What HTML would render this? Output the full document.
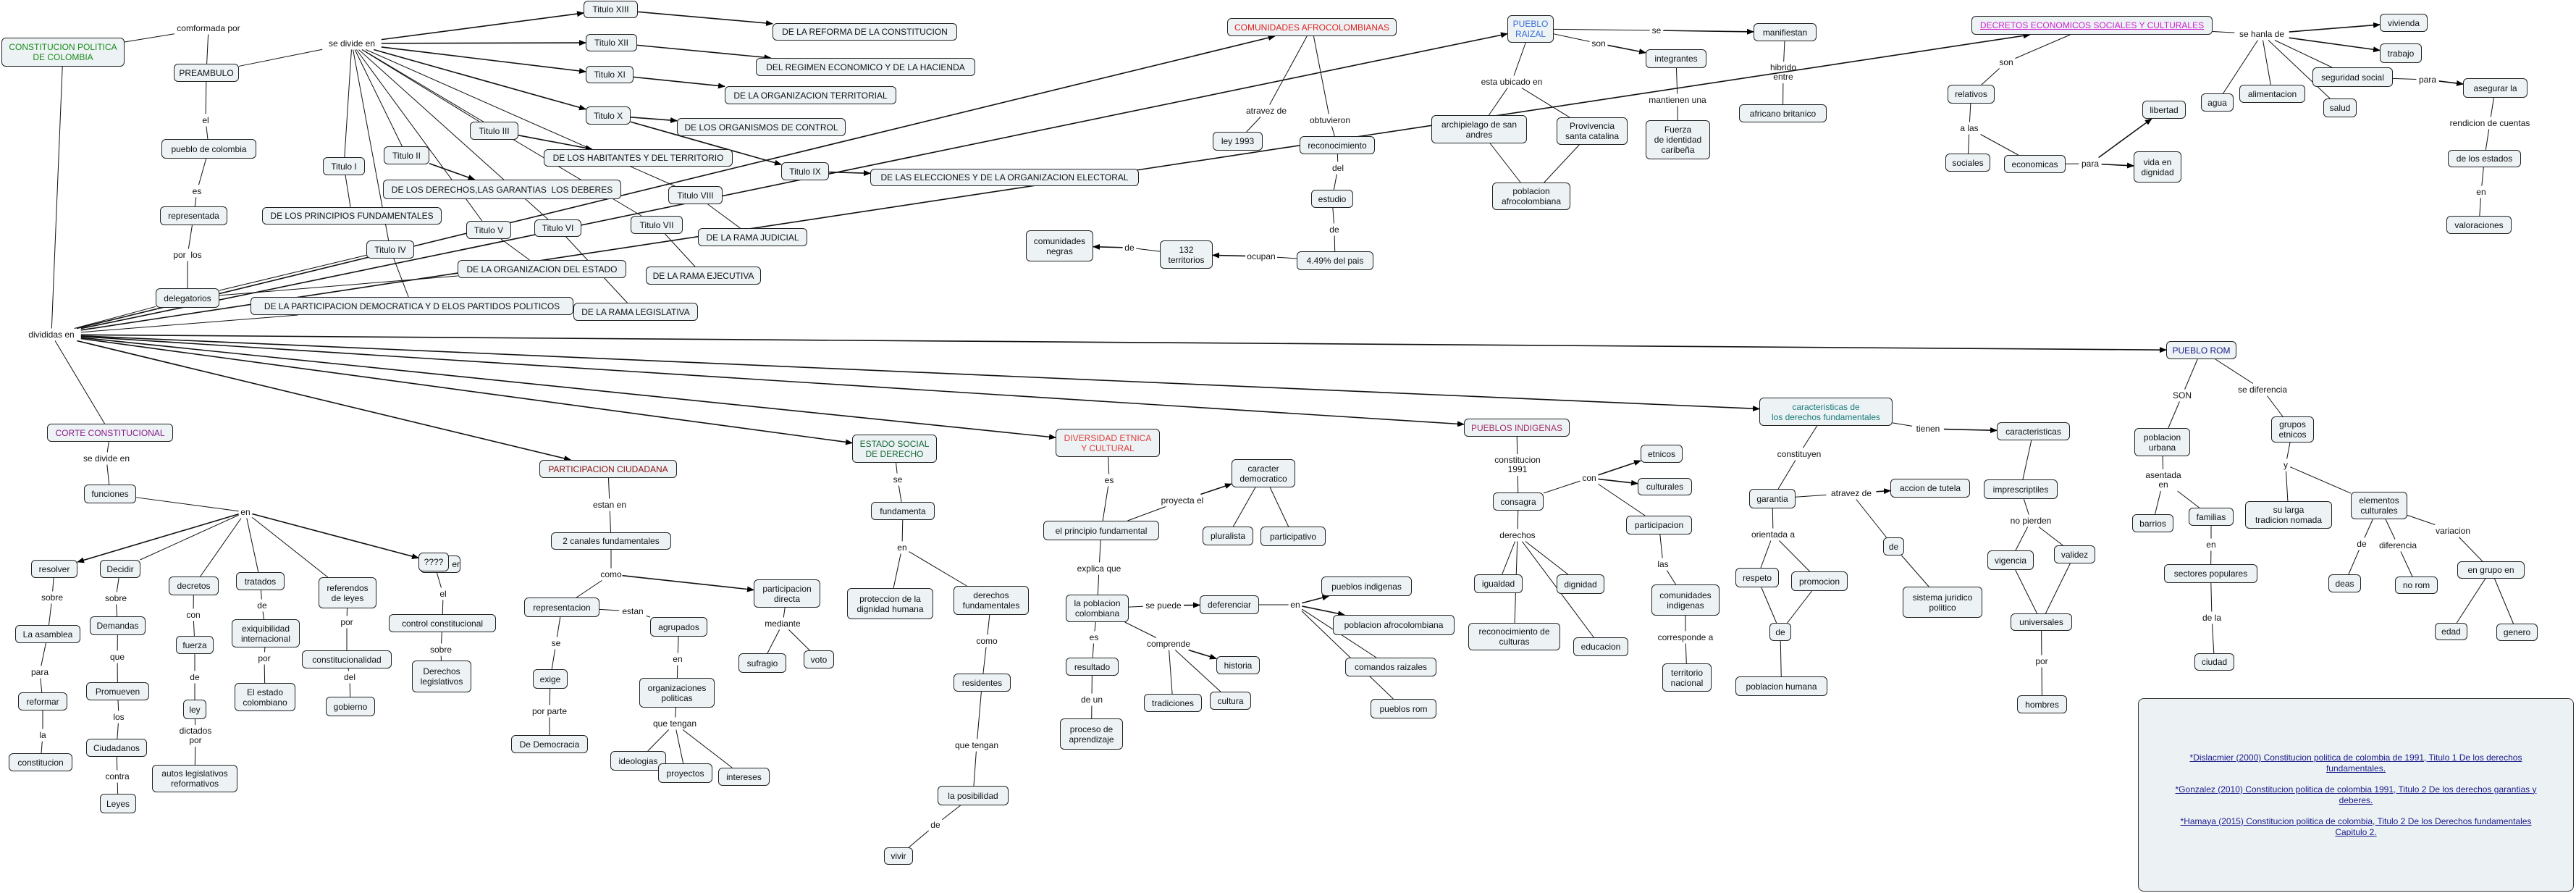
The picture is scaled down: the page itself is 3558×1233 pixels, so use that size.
<!DOCTYPE html>
<html><head><meta charset="utf-8">
<style>
html,body{margin:0;padding:0;background:#fff;}
#c{position:relative;width:3558px;height:1233px;overflow:hidden;font-family:"Liberation Sans",sans-serif;}
svg{position:absolute;left:0;top:0;}
.n{position:absolute;box-sizing:border-box;border:1px solid #222;border-radius:6px;background:#edf3f5;display:flex;align-items:center;justify-content:center;text-align:center;font-size:12px;line-height:14px;color:#111;white-space:pre;}
.l{position:absolute;display:flex;align-items:center;justify-content:center;text-align:center;font-size:12px;line-height:13px;color:#111;white-space:pre;}
#refs{position:absolute;left:2953px;top:964px;width:602px;height:267px;box-sizing:border-box;border:1px solid #333;border-radius:8px;background:#ecf2f4;display:flex;flex-direction:column;justify-content:center;align-items:center;text-align:center;font-size:12px;line-height:15px;color:#1a1a8a;}
#refs p{margin:7px 36px;text-decoration:underline;}
</style></head><body>
<div id="c">
<svg id="s" width="3558" height="1233" xmlns="http://www.w3.org/2000/svg">
<defs><marker id="a" markerWidth="10" markerHeight="10" refX="9" refY="4" orient="auto" markerUnits="userSpaceOnUse"><path d="M0,0 L10,4 L0,8 z" fill="#000"/></marker></defs>
</svg>
<div id="refs">
<p>*Dislacmier (2000) Constitucion politica de colombia de 1991, Titulo 1 De los derechos fundamentales.</p>
<p>*Gonzalez (2010) Constitucion politica de colombia 1991, Titulo 2 De los derechos garantias y deberes.</p>
<p>*Hamaya (2015) Constitucion politica de colombia, Titulo 2 De los Derechos fundamentales Capitulo 2.</p>
</div>
</div>
<script>
var N={};
function n(id,x1,y1,x2,y2,t,c,u){N[id]={x:x1,y:y1,w:x2-x1,h:y2-y1,t:t,c:c,u:u,k:'n'};}
function l(id,cx,cy,t){var ls=t.split('\n'),m=0;ls.forEach(function(s){m=Math.max(m,s.length)});var w=m*6.3+4,h=ls.length*13+2;N[id]={x:cx-w/2,y:cy-h/2,w:w,h:h,t:t,k:'l'};}
n('cpc',2,52,172,92,'CONSTITUCION POLITICA\nDE COLOMBIA','#1a8a1a');
n('pre',240,88,330,113,'PREAMBULO');n('pdc',223,192,354,219,'pueblo de colombia');
n('rep',221,285,314,311,'representada');n('del',215,398,303,425,'delegatorios');
n('t13',806,1,881,25,'Titulo XIII');n('t12',809,47,880,71,'Titulo XII');n('t11',809,91,875,115,'Titulo XI');
n('t10',809,147,871,172,'Titulo X');n('t3',649,168,716,193,'Titulo III');n('t2',530,202,593,227,'Titulo II');
n('t1',446,217,504,242,'Titulo I');n('t9',1079,224,1145,249,'Titulo IX');n('t8',923,257,998,282,'Titulo VIII');
n('t7',871,298,943,323,'Titulo VII');n('t6',738,303,803,327,'Titulo VI');n('t5',644,305,706,330,'Titulo V');n('t4',506,332,572,357,'Titulo IV');
n('ref',1067,32,1322,56,'DE LA REFORMA DE LA CONSTITUCION');n('reg',1044,80,1347,105,'DEL REGIMEN ECONOMICO Y DE LA HACIENDA');
n('ot',1001,119,1238,144,'DE LA ORGANIZACION TERRITORIAL');n('oc',935,163,1168,188,'DE LOS ORGANISMOS DE CONTROL');
n('hab',751,206,1012,230,'DE LOS HABITANTES Y DEL TERRITORIO');n('der',529,248,858,275,'DE LOS DERECHOS,LAS GARANTIAS  LOS DEBERES');
n('pri',362,286,610,310,'DE LOS PRINCIPIOS FUNDAMENTALES');n('rj',964,315,1115,340,'DE LA RAMA JUDICIAL');
n('oe',632,359,865,384,'DE LA ORGANIZACION DEL ESTADO');n('re',892,368,1051,393,'DE LA RAMA EJECUTIVA');
n('pd',346,410,792,435,'DE LA PARTICIPACION DEMOCRATICA Y D ELOS PARTIDOS POLITICOS');n('rl',792,418,964,443,'DE LA RAMA LEGISLATIVA');
n('ele',1202,233,1573,257,'DE LAS ELECCIONES Y DE LA ORGANIZACION ELECTORAL');
n('afro',1695,25,1929,50,'COMUNIDADES AFROCOLOMBIANAS','#e0201f');n('rai',2082,21,2146,59,'PUEBLO\nRAIZAL','#3a6ed8');
n('int',2273,68,2357,94,'integrantes');n('ley93',1675,182,1744,208,'ley 1993');n('rec',1795,188,1899,213,'reconocimiento');
n('arc',1977,159,2109,198,'archipielago de san\nandres');n('pro3',2150,162,2248,200,'Provivencia\nsanta catalina');
n('fue2',2273,166,2362,220,'Fuerza\nde identidad\ncaribeña');n('est2',1811,262,1869,287,'estudio');
n('paf',2061,252,2169,290,'poblacion\nafrocolombiana');n('cn',1417,318,1510,361,'comunidades\nnegras');
n('t132',1602,332,1675,371,'132\nterritorios');n('p449',1791,347,1897,373,'4.49% del pais');
n('man',2422,32,2509,57,'manifiestan');n('afb',2402,144,2523,169,'africano britanico');
n('dcs',2723,22,3056,48,'DECRETOS ECONOMICOS SOCIALES Y CULTURALES','#d020d0',1);
n('viv2',3287,19,3353,44,'vivienda');n('trb',3287,60,3345,87,'trabajo');n('rel',2690,117,2755,143,'relativos');
n('agu',3040,129,3085,154,'agua');n('ali',3093,117,3184,142,'alimentacion');n('ss',3194,93,3305,120,'seguridad social');
n('sal',3209,136,3255,162,'salud');n('ase2',3402,108,3491,135,'asegurar la');n('lib',2959,139,3019,164,'libertad');
n('soc',2687,212,2749,237,'sociales');n('eco',2768,214,2853,239,'economicas');n('vid',2947,209,3013,252,'vida en\ndignidad');
n('dle',3381,207,3482,231,'de los estados');n('val2',3379,298,3469,323,'valoraciones');
n('cor',65,585,239,610,'CORTE CONSTITUCIONAL','#8a1a8a');n('fun',116,669,188,695,'funciones');
n('res',43,773,107,798,'resolver');n('dec',138,773,194,798,'Decidir');n('dcr',233,796,302,822,'decretos');
n('tra',326,790,393,815,'tratados');n('rfl',440,797,520,840,'referendos\nde leyes');
n('pod',580,767,636,791,'        er');n('qq',578,763,620,789,'????');
n('asa',21,863,111,888,'La asamblea');n('dem',124,851,201,877,'Demandas');n('fue',243,878,295,903,'fuerza');
n('exi',320,855,414,894,'exiquibilidad\ninternacional');n('cc',537,848,685,873,'control constitucional');
n('cst',417,898,541,923,'constitucionalidad');n('rfm',25,956,93,981,'reformar');n('pro',119,942,206,967,'Promueven');
n('ley',253,966,285,993,'ley');n('eec',324,943,408,982,'El estado\ncolombiano');n('gob',450,962,518,989,'gobierno');
n('dl',569,912,651,956,'Derechos\nlegislativos');n('cons',12,1040,100,1065,'constitucion');n('ciu',119,1020,203,1045,'Ciudadanos');
n('lys',138,1096,188,1123,'Leyes');n('aut',210,1056,328,1094,'autos legislativos\nreformativos');
n('pc',745,635,935,660,'PARTICIPACION CIUDADANA','#8a1010');n('c2',761,735,927,759,'2 canales fundamentales');
n('rpr',724,825,828,852,'representacion');n('agr',898,852,977,879,'agrupados');n('pdi',1041,800,1133,839,'participacion\ndirecta');
n('suf',1020,902,1086,929,'sufragio');n('vot',1110,898,1152,923,'voto');n('exg',736,924,784,951,'exige');
n('org',883,936,987,977,'organizaciones\npoliticas');n('ddm',706,1015,812,1040,'De Democracia');
n('ide',843,1037,920,1064,'ideologias');n('pry',909,1054,984,1081,'proyectos');n('its',992,1060,1063,1085,'intereses');
n('esd',1177,600,1294,639,'ESTADO SOCIAL\nDE DERECHO','#1a6a3a');n('fnd',1203,693,1291,718,'fundamenta');
n('pro2',1170,812,1289,855,'proteccion de la\ndignidad humana');n('dfu',1317,809,1421,849,'derechos\nfundamentales');
n('rsd',1317,930,1396,955,'residentes');n('pos',1295,1085,1393,1112,'la posibilidad');n('viv',1221,1170,1261,1194,'vivir');
n('dive',1458,592,1602,631,'DIVERSIDAD ETNICA\nY CULTURAL','#e03a3a');n('cd',1701,634,1789,673,'caracter\ndemocratico');
n('epf',1441,719,1601,746,'el principio fundamental');n('plu',1661,727,1731,753,'pluralista');n('par',1741,727,1831,754,'participativo');
n('lpc',1472,821,1559,859,'la poblacion\ncolombiana');n('dfr',1657,822,1739,848,'deferenciar');
n('pi2',1825,796,1950,823,'pueblos indigenas');n('pa2',1841,849,2009,877,'poblacion afrocolombiana');
n('res2',1472,908,1545,933,'resultado');n('his',1680,906,1740,931,'historia');n('cr',1858,908,1984,934,'comandos raizales');
n('tra2',1580,958,1660,983,'tradiciones');n('cul',1671,955,1728,980,'cultura');n('pr',1893,965,1984,992,'pueblos rom');
n('pda',1464,992,1551,1035,'proceso de\naprendizaje');
n('pin',2022,578,2168,603,'PUEBLOS INDIGENAS','#a0306a');n('etn',2266,614,2324,639,'etnicos');n('clt',2262,660,2337,684,'culturales');
n('cns',2062,680,2132,705,'consagra');n('par2',2246,712,2337,738,'participacion');n('igu',2036,793,2103,819,'igualdad');
n('dig',2150,793,2216,820,'dignidad');n('cin',2281,807,2375,850,'comunidades\nindigenas');
n('rdc',2028,860,2155,898,'reconocimiento de\nculturas');n('edu',2173,880,2249,906,'educacion');n('ter',2296,916,2364,955,'territorio\nnacional');
n('cdf',2430,549,2614,588,'caracteristicas de\nlos derechos fundamentales','#1a7a7a');n('car',2758,583,2859,608,'caracteristicas');
n('gar',2416,675,2480,702,'garantia');n('tut',2611,661,2721,687,'accion de tutela');n('imp',2740,662,2842,689,'imprescriptiles');
n('de4',2601,742,2630,767,'de');n('vig',2745,760,2809,787,'vigencia');n('val',2837,753,2894,778,'validez');
n('rsp',2397,784,2457,811,'respeto');n('prm',2474,789,2552,816,'promocion');n('sjp',2628,810,2738,853,'sistema juridico\npolitico');
n('de5',2444,860,2474,885,'de');n('uni',2777,847,2862,871,'universales');n('ph',2397,934,2524,961,'poblacion humana');n('hom',2786,960,2855,985,'hombres');
n('rom',2992,471,3089,496,'PUEBLO ROM','#1a1a8a');n('pu',2948,591,3025,630,'poblacion\nurbana');n('ge',3137,575,3196,611,'grupos\netnicos');
n('bar',2945,710,3002,735,'barrios');n('fam',3023,701,3085,726,'familias');n('slt',3101,692,3221,730,'su larga\ntradicion nomada');
n('ec',3247,679,3325,717,'elementos\nculturales');n('sp2',2989,779,3118,805,'sectores populares');n('deas',3216,793,3261,818,'deas');
n('nr',3308,796,3367,820,'no rom');n('ege',3394,775,3487,799,'en grupo en');n('eda',3363,860,3408,884,'edad');
n('gen',3448,861,3505,885,'genero');n('ciu2',3031,902,3086,926,'ciudad');
l('cfp',288,39,'comformada por');l('sde',486,60,'se divide en');l('elA',284,166,'el');l('esA',272,264,'es');l('plo',259,352,'por  los');l('div',71,462,'divididas en');
l('sdc',147,633,'se divide en');l('enC',339,707,'en');l('sob1',72,825,'sobre');l('sob2',160,826,'sobre');l('con2',267,849,'con');l('de2',362,836,'de');
l('por2',479,859,'por');l('el2',612,820,'el');l('para1',55,928,'para');l('que1',162,907,'que');l('de1',269,935,'de');l('por1',365,909,'por');
l('del2',483,935,'del');l('sob3',609,897,'sobre');l('la1',59,1015,'la');l('los1',164,990,'los');l('dic',270,1016,'dictados\npor');l('con1',162,1072,'contra');
l('ee',842,697,'estan en');l('como',844,793,'como');l('est',874,844,'estan');l('med',1081,861,'mediante');l('se1',768,888,'se');l('en2',936,910,'en');
l('pp',759,982,'por parte');l('qt',932,999,'que tengan');
l('se2',1240,662,'se');l('en3',1246,756,'en');l('como2',1363,885,'como');l('qt2',1349,1029,'que tengan');l('de3',1292,1139,'de');
l('es1',1532,663,'es');l('pye',1633,691,'proyecta el');l('exq',1518,785,'explica que');l('sp',1607,836,'se puede');l('en4',1789,835,'en');
l('es2',1511,880,'es');l('com',1614,889,'comprende');l('deu',1508,966,'de un');
l('c91',2096,642,'constitucion\n1991');l('con3',2195,660,'con');l('drc',2096,739,'derechos');l('las',2297,779,'las');l('cor2',2328,880,'corresponde a');
l('tie',2663,592,'tienen');l('cns2',2485,627,'constituyen');l('atv',2557,681,'atravez de');l('ori',2449,738,'orientada a');l('np',2805,719,'no pierden');l('por3',2820,913,'por');
l('son1',3014,546,'SON');l('sdf',3125,538,'se diferencia');l('ase',2988,663,'asentada\nen');l('y',3157,642,'y');l('en5',3054,752,'en');
l('de6',3262,751,'de');l('dif',3312,753,'diferencia');l('var',3388,733,'variacion');l('dl2',3055,853,'de la');
l('atv2',1749,153,'atravez de');l('obt',1837,166,'obtuvieron');l('del3',1848,232,'del');l('de7',1843,317,'de');l('ocu',1742,354,'ocupan');l('de8',1560,342,'de');
l('se3',2288,42,'se');l('son2',2208,60,'son');l('eub',2088,113,'esta ubicado en');l('mtu',2317,138,'mantienen una');l('hib',2463,100,'hibrido\nentre');
l('son3',2771,86,'son');l('alas',2720,177,'a las');l('para2',2887,226,'para');l('shd',3124,47,'se hanla de');l('para3',3353,110,'para');
l('rdc2',3439,170,'rendicion de cuentas');l('en6',3427,265,'en');
var E=("cpc-cfp cfp-pre pre-sde pre-elA elA-pdc pdc-esA esA-rep rep-plo plo-del "+
"sde>t13 sde>t12 sde>t11 sde>t10 sde-t3 sde-t2 sde-t1 sde-t4 sde-t5 sde-t6 sde-t7 sde-t8 "+
"t13>ref t12>reg t11>ot t10>oc t10>t9 t3>hab t2>der t9>ele t1-pri t4-pd t5-oe t6-rl t7-re t8-rj "+
"cpc-div del-div div-pd del-t4 del-oe div>afro div>rai div>dcs div-cor div>pc div>esd div>dive div>pin div>cdf div>rom "+
"cor-sdc sdc-fun fun-enC enC>res enC-dec enC-dcr enC-tra enC-rfl enC>qq "+
"res-sob1 sob1-asa asa-para1 para1-rfm rfm-la1 la1-cons dec-sob2 sob2-dem dem-que1 que1-pro pro-los1 los1-ciu ciu-con1 con1-lys "+
"dcr-con2 con2-fue fue-de1 de1-ley ley-dic dic-aut tra-de2 de2-exi exi-por1 por1-eec rfl-por2 por2-cst cst-del2 del2-gob qq-el2 el2-cc cc-sob3 sob3-dl "+
"pc-ee ee-c2 c2-como como>pdi como-rpr rpr-se1 se1-exg exg-pp pp-ddm rpr-est est-agr agr-en2 en2-org org-qt qt-ide qt-pry qt-its pdi-med med-suf med-vot "+
"esd-se2 se2-fnd fnd-en3 en3-pro2 en3-dfu dfu-como2 como2-rsd rsd-qt2 qt2-pos pos-de3 de3-viv "+
"dive-es1 es1-epf epf-pye pye>cd cd-plu cd-par epf-exq exq-lpc lpc-sp sp>dfr dfr-en4 en4>pi2 en4>pa2 en4-cr en4-pr lpc-es2 es2-res2 res2-deu deu-pda lpc-com com>his com-tra2 com-cul "+
"pin-c91 c91-cns cns-con3 con3>etn con3>clt con3-par2 par2-las las-cin cin-cor2 cor2-ter cns-drc drc-igu drc-dig drc-rdc drc-edu "+
"cdf-tie tie>car cdf-cns2 cns2-gar gar-atv atv>tut atv-de4 de4-sjp gar-ori ori-rsp ori-prm rsp-de5 prm-de5 de5-ph car-imp imp-np np-vig np-val vig-uni val-uni uni-por3 por3-hom "+
"rom-son1 son1-pu pu-ase ase-bar ase-fam fam-en5 en5-sp2 sp2-dl2 dl2-ciu2 rom-sdf sdf-ge ge-y y-slt y-ec ec-de6 de6-deas ec-dif dif-nr ec-var var-ege ege-eda ege-gen "+
"afro-atv2 atv2-ley93 afro-obt obt-rec rec-del3 del3-est2 est2-de7 de7-p449 p449-ocu ocu>t132 t132-de8 de8>cn "+
"rai-se3 se3>man rai-son2 son2>int rai-eub eub-arc eub-pro3 arc-paf pro3-paf int-mtu mtu-fue2 man-hib hib-afb "+
"dcs-son3 son3-rel rel-alas alas-soc alas-eco eco-para2 para2>lib para2>vid dcs-shd shd>viv2 shd>trb shd-agu shd-ali shd-sal shd-ss ss-para3 para3>ase2 ase2-rdc2 rdc2-dle dle-en6 en6-val2").split(' ');
function clip(r,dx,dy,pad){var hw=r.w/2+pad,hh=r.h/2+pad;var t=Math.min(dx?hw/Math.abs(dx):1e9,dy?hh/Math.abs(dy):1e9);return [r.x+r.w/2+dx*t,r.y+r.h/2+dy*t];}
var s=document.getElementById('s'),ns='http://www.w3.org/2000/svg';
E.forEach(function(e){var ar=e.indexOf('>')>=0;var p=e.split(/[->]/);var A=N[p[0]],B=N[p[1]];if(!A||!B)return;
var ax=A.x+A.w/2,ay=A.y+A.h/2,bx=B.x+B.w/2,by=B.y+B.h/2,dx=bx-ax,dy=by-ay;
var p1=clip(A,dx,dy,A.k=='l'?1:0),p2=clip(B,-dx,-dy,B.k=='l'?1:0);
var ln=document.createElementNS(ns,'line');ln.setAttribute('x1',p1[0]);ln.setAttribute('y1',p1[1]);ln.setAttribute('x2',p2[0]);ln.setAttribute('y2',p2[1]);
ln.setAttribute('stroke','#111');ln.setAttribute('stroke-width',ar?'1.6':'1');if(ar)ln.setAttribute('marker-end','url(#a)');s.appendChild(ln);});
var c=document.getElementById('c');
for(var k in N){var r=N[k];var d=document.createElement('div');d.className=r.k;d.style.left=r.x+'px';d.style.top=r.y+'px';d.style.width=r.w+'px';d.style.height=r.h+'px';
d.textContent=r.t;if(r.c)d.style.color=r.c;if(r.u)d.style.textDecoration='underline';if(k=='pod')d.style.justifyContent='flex-end';c.appendChild(d);}
</script>
</body></html>
